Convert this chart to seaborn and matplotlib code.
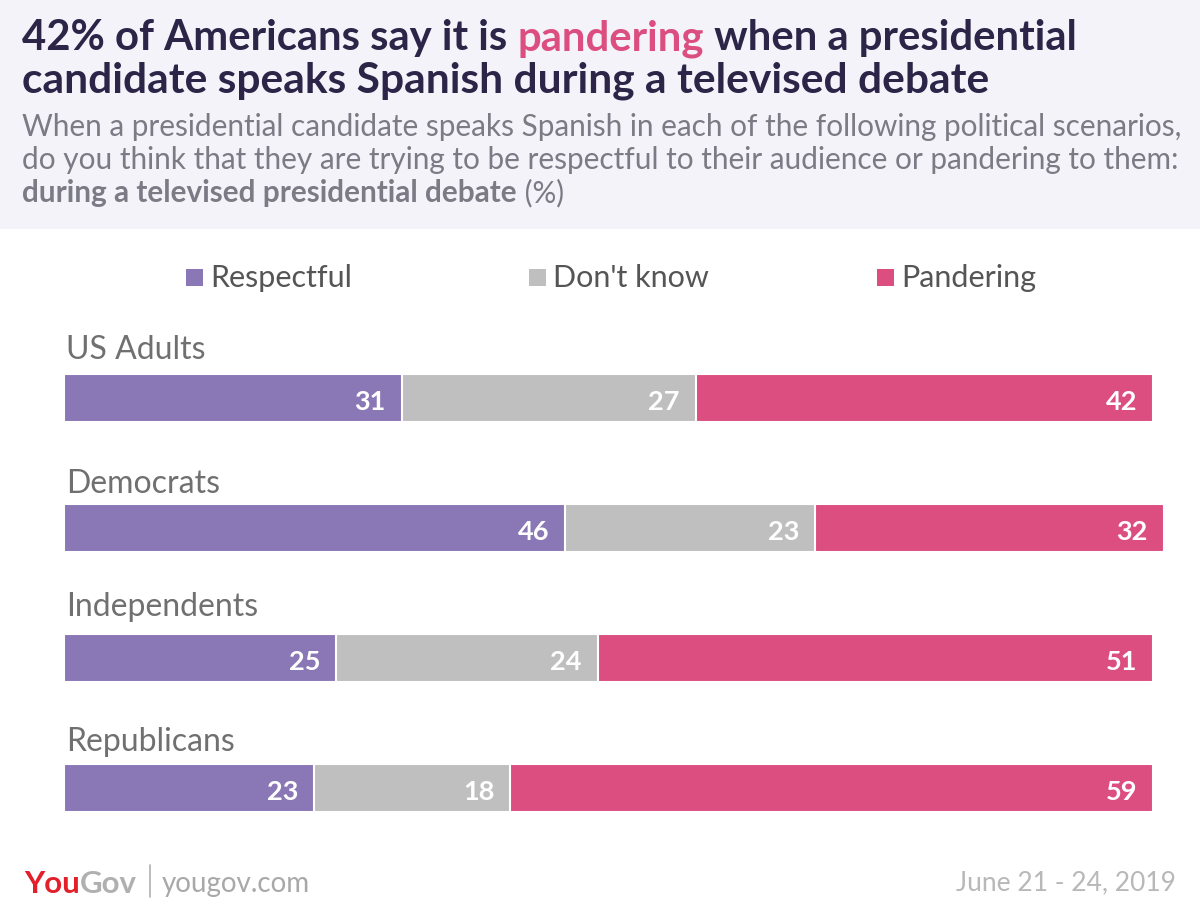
import matplotlib
matplotlib.use("Agg")
import matplotlib.pyplot as plt
from matplotlib.patches import Rectangle
import seaborn as sns
import pandas as pd
import numpy as np

# ---- data ----
categories = ["US Adults", "Democrats", "Independents", "Republicans"]
respectful = [31, 46, 25, 23]
dont_know = [27, 23, 24, 18]
pandering = [42, 32, 51, 59]
series_names = ["Respectful", "Don't know", "Pandering"]
colors = ["#8a77b5", "#bfbfbf", "#dc4e7f"]

title_parts = [("42% of Americans say it is ", "#2c2548"), ("pandering", "#dc4e7f"),
               (" when a presidential", "#2c2548")]
title_line2 = "candidate speaks Spanish during a televised debate"
sub_line1 = "When a presidential candidate speaks Spanish in each of the following political scenarios,"
sub_line2 = "do you think that they are trying to be respectful to their audience or pandering to them:"
sub_line3_bold = "during a televised presidential debate"
sub_line3_rest = " (%)"
date_text = "June 21 - 24, 2019"

sns.set_theme(style="white")
plt.rcParams['font.family'] = ['Lato', 'DejaVu Sans']

W, H = 1200, 912
fig = plt.figure(figsize=(W / 100, H / 100), dpi=100)
fig.patch.set_facecolor("white")

def fx(px):
    return px / W

def fy(py):
    return 1 - py / H

# header background
fig.patches.append(Rectangle((0, fy(230)), 1, 1 - fy(230), transform=fig.transFigure,
                             facecolor="#f3f3f9", edgecolor="none", zorder=0))

renderer = fig.canvas.get_renderer()

def chain_text(x_px, y_px, parts, **kw):
    x = x_px
    for s, c, w in parts:
        t = fig.text(fx(x), fy(y_px), s, color=c, weight=w, va="baseline", ha="left", **kw)
        bb = t.get_window_extent(renderer)
        x += bb.width
    return x

# title
chain_text(22, 50, [(s, c, "bold") for s, c in title_parts], fontsize=30.2)
fig.text(fx(22), fy(92), title_line2, color="#2c2548", weight="bold", fontsize=30.6, va="baseline")
# subtitle
sub_color = "#7b7a85"
sub_fs = 21.4
fig.text(fx(22), fy(136), sub_line1, color=sub_color, weight="normal", fontsize=sub_fs, va="baseline")
fig.text(fx(22), fy(169), sub_line2, color=sub_color, weight="normal", fontsize=sub_fs, va="baseline")
chain_text(22, 202, [(sub_line3_bold, sub_color, "bold"), (sub_line3_rest, sub_color, "normal")],
           fontsize=sub_fs)

# legend (manual)
leg_x = [186, 529, 877]
for lx, name, col in zip(leg_x, series_names, colors):
    fig.patches.append(Rectangle((fx(lx), fy(287)), fx(17), 17 / H, transform=fig.transFigure,
                                 facecolor=col, edgecolor="none"))
    fig.text(fx(lx + 24), fy(278), name, color="#555555", weight="normal", fontsize=22,
             va="center", ha="left")

# ---- bars ----
df = pd.DataFrame({"category": categories, "Respectful": respectful,
                   "Don't know": dont_know, "Pandering": pandering})
df["c1"] = df["Respectful"]
df["c2"] = df["Respectful"] + df["Don't know"]
df["c3"] = df["c2"] + df["Pandering"]

ax = fig.add_axes([fx(64), fy(854), 10.89 * 101 / W, 520 / H])
bar_w = 48 / 130
for col_name, color in zip(["c3", "c2", "c1"], colors[::-1]):
    sns.barplot(data=df, x=col_name, y="category", orient="h", color=color, width=bar_w,
                saturation=1, edgecolor="white", linewidth=1.5, ax=ax, order=categories)

ax.set_xlim(0, 101)
ax.set_ylim(3.5, -0.5)
ax.axis("off")
ax.patch.set_alpha(0)

label_dy = [25, 21, 28, 23]
for i, row in df.iterrows():
    vals = [row["Respectful"], row["Don't know"], row["Pandering"]]
    ends = [row["c1"], row["c2"], row["c3"]]
    for v, e in zip(vals, ends):
        ax.annotate(f"{v}", xy=(e, i), xytext=(-16, -3), textcoords="offset pixels",
                    ha="right", va="center", color="white", weight="bold", fontsize=19.5)
    ax.annotate(row["category"], xy=(0, i - 0.5 * bar_w), xytext=(2, label_dy[i]),
                textcoords="offset pixels", ha="left", va="center", color="#707070",
                fontsize=23, annotation_clip=False)

# ---- footer ----
chain_text(24, 893, [("You", "#e3202a", "bold"), ("Gov", "#b0b0b0", "bold")], fontsize=22.5)
fig.lines.append(plt.Line2D([fx(150), fx(150)], [fy(866), fy(898)], transform=fig.transFigure,
                            color="#b0b0b0", linewidth=1.2))
fig.text(fx(162), fy(892), "yougov.com", color="#a8a8a8", weight="normal", fontsize=20,
         va="baseline")
fig.text(fx(1176), fy(890), date_text, color="#b8b8b8", weight="normal", fontsize=19,
         va="baseline", ha="right")

fig.savefig("out.png", dpi=100, facecolor="white")
